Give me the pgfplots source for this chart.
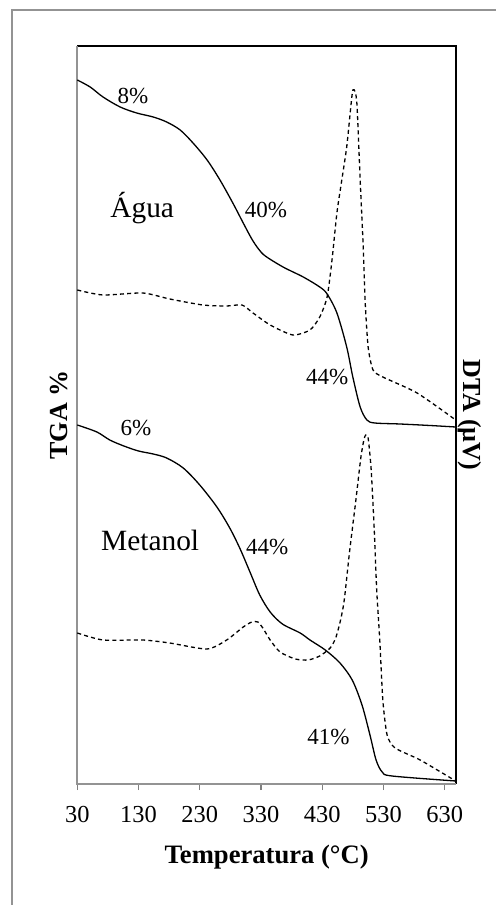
\documentclass[border=0pt]{standalone}
\usepackage{fontspec}
\setmainfont{Liberation Serif}
\usepackage{pgfplots}
\pgfplotsset{compat=1.18}
\begin{document}
\begin{tikzpicture}
\useasboundingbox (0,0) rectangle (248pt,452.5pt);
\draw[gray!85, line width=1pt] (6pt,-1pt) -- (6pt,447.5pt) -- (249pt,447.5pt);
\begin{axis}[
  at={(38.65pt,60.5pt)}, anchor=south west,
  scale only axis, width=189.35pt, height=369pt,
  xmin=30, xmax=648.5, ymin=0, ymax=738,
  axis line style={draw=none},
  xtick={30,130,230,330,430,530,630}, ytick=\empty,
  xtick pos=bottom, tick align=outside, major tick length=3pt,
  tick style={gray, line width=0.6pt},
  /pgf/number format/assume math mode=true,
  xticklabel style={font=\fontsize{12.2}{14}\selectfont, yshift=-4.5pt},
  clip=false,
]
\draw[black, line width=0.7pt] (rel axis cs:0,1) -- (rel axis cs:1,1) -- (rel axis cs:1,0);
\draw[gray!85, line width=1pt] (rel axis cs:0,1) -- (rel axis cs:0,0) -- (rel axis cs:1,0);

% Upper TGA (Agua)
\addplot[black, line width=0.65pt, smooth, tension=0.5] coordinates {
(30,704) (51,697) (72,687) (100,677) (127,671) (154,667) (176,662) (198,654)
(219,641) (242,624) (263,604) (284,581) (301,561) (315,545) (326,535) (337,528)
(366,517) (399,507) (426,497) (438,490) (454,471) (470,437) (480,407) (492,377)
(503,364) (516,361) (557,360) (606,358.5) (648,357)};
% Upper DTA
\addplot[black, line width=0.65pt, dash pattern=on 2pt off 1.6pt, smooth, tension=0.4] coordinates {
(30,494) (72,489) (137,491) (181,485) (235,479) (274,478) (299,479) (317,471)
(345,459) (382,449) (410,454) (426,467) (438,487) (446,524) (454,571) (462,604)
(470,637) (477,679) (480,694) (484,692) (487,677) (492,604) (497,537) (500,484)
(505,437) (513,414) (529,407) (585,391) (648,364)};
% Lower TGA (Metanol)
\addplot[black, line width=0.65pt, smooth, tension=0.5] coordinates {
(30,359) (62,352) (83,344) (106,338) (130,333) (154,330) (176,326) (203,316)
(230,299) (258,277) (279,256) (296,235) (312,212) (328,189) (345,172) (365,160)
(394,151) (410,144) (435,134) (459,121) (479,104) (495,79) (508,49) (518,24)
(528,12) (544,8) (648,3)};
% Lower DTA
\addplot[black, line width=0.65pt, dash pattern=on 2pt off 1.6pt, smooth, tension=0.4] coordinates {
(30,151) (72,144) (137,144) (181,141) (242,135) (274,144) (301,157) (315,162)
(325,162) (333,156) (345,144) (361,132) (386,125) (407,124) (426,128) (443,136)
(452,146) (460,164) (466,184) (475,234) (485,284) (493,326) (498,344) (501,349) (505,346)
(510,314) (515,254) (519,194) (524,144) (529,84) (536,49) (549,36) (590,24) (648,3)};

\node[font=\fontsize{11.5}{13}\selectfont] at (axis cs:121,688) {8\%};
\node[font=\fontsize{14.7}{17}\selectfont] at (axis cs:136,576) {Água};
\node[font=\fontsize{11.5}{13}\selectfont] at (axis cs:338,574) {40\%};
\node[font=\fontsize{11.5}{13}\selectfont] at (axis cs:438,407) {44\%};
\node[font=\fontsize{11.5}{13}\selectfont] at (axis cs:126,356) {6\%};
\node[font=\fontsize{14.7}{17}\selectfont] at (axis cs:149,244) {Metanol};
\node[font=\fontsize{11.5}{13}\selectfont] at (axis cs:340,237) {44\%};
\node[font=\fontsize{11.5}{13}\selectfont] at (axis cs:440,47) {41\%};

\node[font=\fontsize{13.3}{15}\selectfont\bfseries, yshift=-36.5pt] at (rel axis cs:0.5,0) {Temperatura (°C)};
\node[font=\fontsize{13}{15}\selectfont\bfseries, rotate=90, yshift=9.2pt] at (rel axis cs:0,0.5) {TGA \%};
\node[font=\fontsize{13}{15}\selectfont\bfseries, rotate=-90, yshift=7pt] at (rel axis cs:1,0.5) {DTA (µV)};
\end{axis}
\end{tikzpicture}
\end{document}
